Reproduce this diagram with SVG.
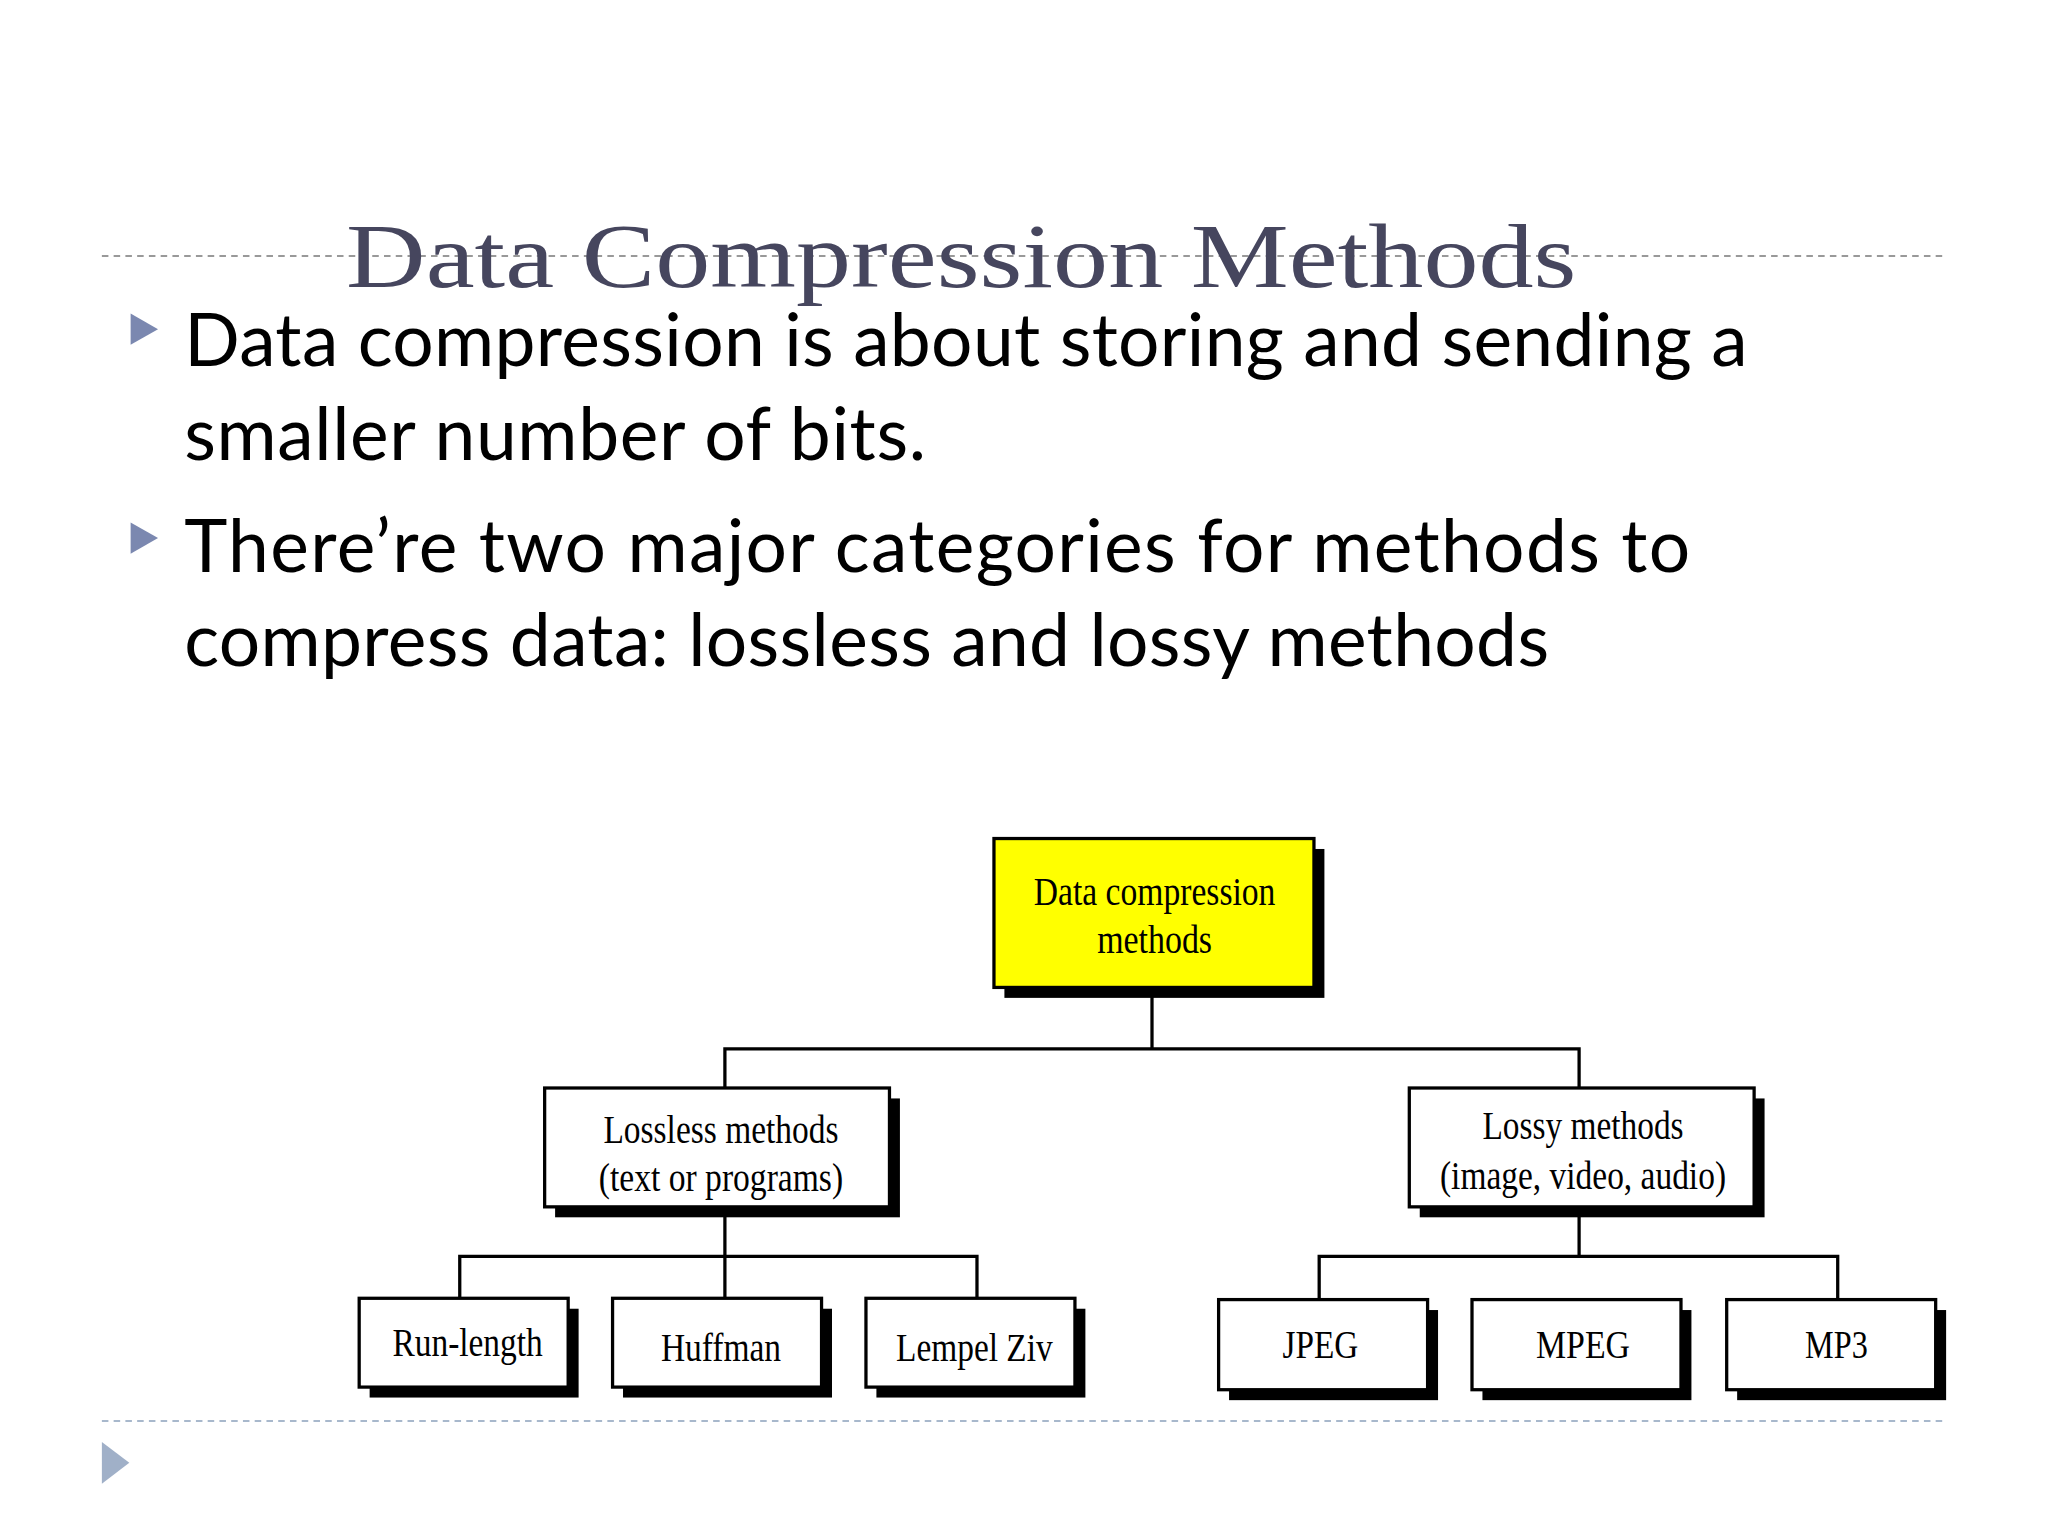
<svg xmlns="http://www.w3.org/2000/svg" width="2048" height="1536" viewBox="0 0 2048 1536">
<style>
.box{fill:#fff;stroke:#000;stroke-width:2.5}
.sh{fill:#000}
.t{font-family:"Liberation Serif",serif;font-size:30px;text-anchor:middle;fill:#000}
.b{font-family:Lato,"Open Sans",sans-serif;font-size:56px;fill:#000}
.c{fill:none;stroke:#000;stroke-width:2.5}
</style>
<rect width="2048" height="1536" fill="#fff"/>
<g transform="scale(1.30612)">
<g id="header">
<line x1="78" y1="196" x2="1490" y2="196" stroke="#999" stroke-width="1.5" stroke-dasharray="5,4"/>
<text x="265" y="220" font-family="Liberation Serif,serif" font-size="70" fill="#46465e" textLength="942" lengthAdjust="spacingAndGlyphs">Data Compression Methods</text>
</g>
<g id="bullets">
<polygon points="100,240 121,252 100,264" fill="#7b88b0"/>
<polygon points="100,400 121,412 100,424" fill="#7b88b0"/>
<text class="b" x="141" y="280" textLength="1197">Data compression is about storing and sending a</text>
<text class="b" x="141" y="352" textLength="568">smaller number of bits.</text>
<text class="b" x="141" y="438" textLength="1153">There’re two major categories for methods to</text>
<text class="b" x="141" y="510" textLength="1045">compress data: lossless and lossy methods</text>
</g>
<g id="connectors">
<polyline class="c" points="882,756 882,803"/>
<polyline class="c" points="555,833 555,803 1209,803 1209,833"/>
<polyline class="c" points="555,924 555,994"/>
<polyline class="c" points="352,994 352,962 748,962 748,994"/>
<polyline class="c" points="1209,924 1209,962"/>
<polyline class="c" points="1010,995 1010,962 1407,962 1407,995"/>
</g>
<g id="root"><rect class="sh" x="769" y="650" width="245" height="114"/><rect class="box" x="761" y="642" width="245" height="114" style="fill:#ff0"/>
<text class="t" x="884" y="693" textLength="185" lengthAdjust="spacingAndGlyphs">Data compression</text><text class="t" x="884" y="730" textLength="88" lengthAdjust="spacingAndGlyphs">methods</text></g>
<g id="lossless"><rect class="sh" x="425" y="841" width="264" height="91"/><rect class="box" x="417" y="833" width="264" height="91"/>
<text class="t" x="552" y="875" textLength="180" lengthAdjust="spacingAndGlyphs">Lossless methods</text><text class="t" x="552" y="912" textLength="187" lengthAdjust="spacingAndGlyphs">(text or programs)</text></g>
<g id="lossy"><rect class="sh" x="1087" y="841" width="264" height="91"/><rect class="box" x="1079" y="833" width="264" height="91"/>
<text class="t" x="1212" y="872" textLength="154" lengthAdjust="spacingAndGlyphs">Lossy methods</text><text class="t" x="1212" y="910" textLength="219" lengthAdjust="spacingAndGlyphs">(image, video, audio)</text></g>
<g id="runlength"><rect class="sh" x="283" y="1002" width="160" height="68"/><rect class="box" x="275" y="994" width="160" height="68"/><text class="t" x="358" y="1038" textLength="115" lengthAdjust="spacingAndGlyphs">Run-length</text></g>
<g id="huffman"><rect class="sh" x="477" y="1002" width="160" height="68"/><rect class="box" x="469" y="994" width="160" height="68"/><text class="t" x="552" y="1042" textLength="92" lengthAdjust="spacingAndGlyphs">Huffman</text></g>
<g id="lempelziv"><rect class="sh" x="671" y="1002" width="160" height="68"/><rect class="box" x="663" y="994" width="160" height="68"/><text class="t" x="746" y="1042" textLength="120" lengthAdjust="spacingAndGlyphs">Lempel Ziv</text></g>
<g id="jpeg"><rect class="sh" x="941" y="1003" width="160" height="69"/><rect class="box" x="933" y="995" width="160" height="69"/><text class="t" x="1011" y="1040" textLength="58" lengthAdjust="spacingAndGlyphs">JPEG</text></g>
<g id="mpeg"><rect class="sh" x="1135" y="1003" width="160" height="69"/><rect class="box" x="1127" y="995" width="160" height="69"/><text class="t" x="1212" y="1040" textLength="72" lengthAdjust="spacingAndGlyphs">MPEG</text></g>
<g id="mp3"><rect class="sh" x="1330" y="1003" width="160" height="69"/><rect class="box" x="1322" y="995" width="160" height="69"/><text class="t" x="1406" y="1040" textLength="48" lengthAdjust="spacingAndGlyphs">MP3</text></g>
<g id="footer">
<line x1="78" y1="1088" x2="1490" y2="1088" stroke="#a8b8cc" stroke-width="1.5" stroke-dasharray="5,4"/>
<polygon points="78,1104 99,1120 78,1136" fill="#a0b0c8"/>
</g>
</g>
</svg>
